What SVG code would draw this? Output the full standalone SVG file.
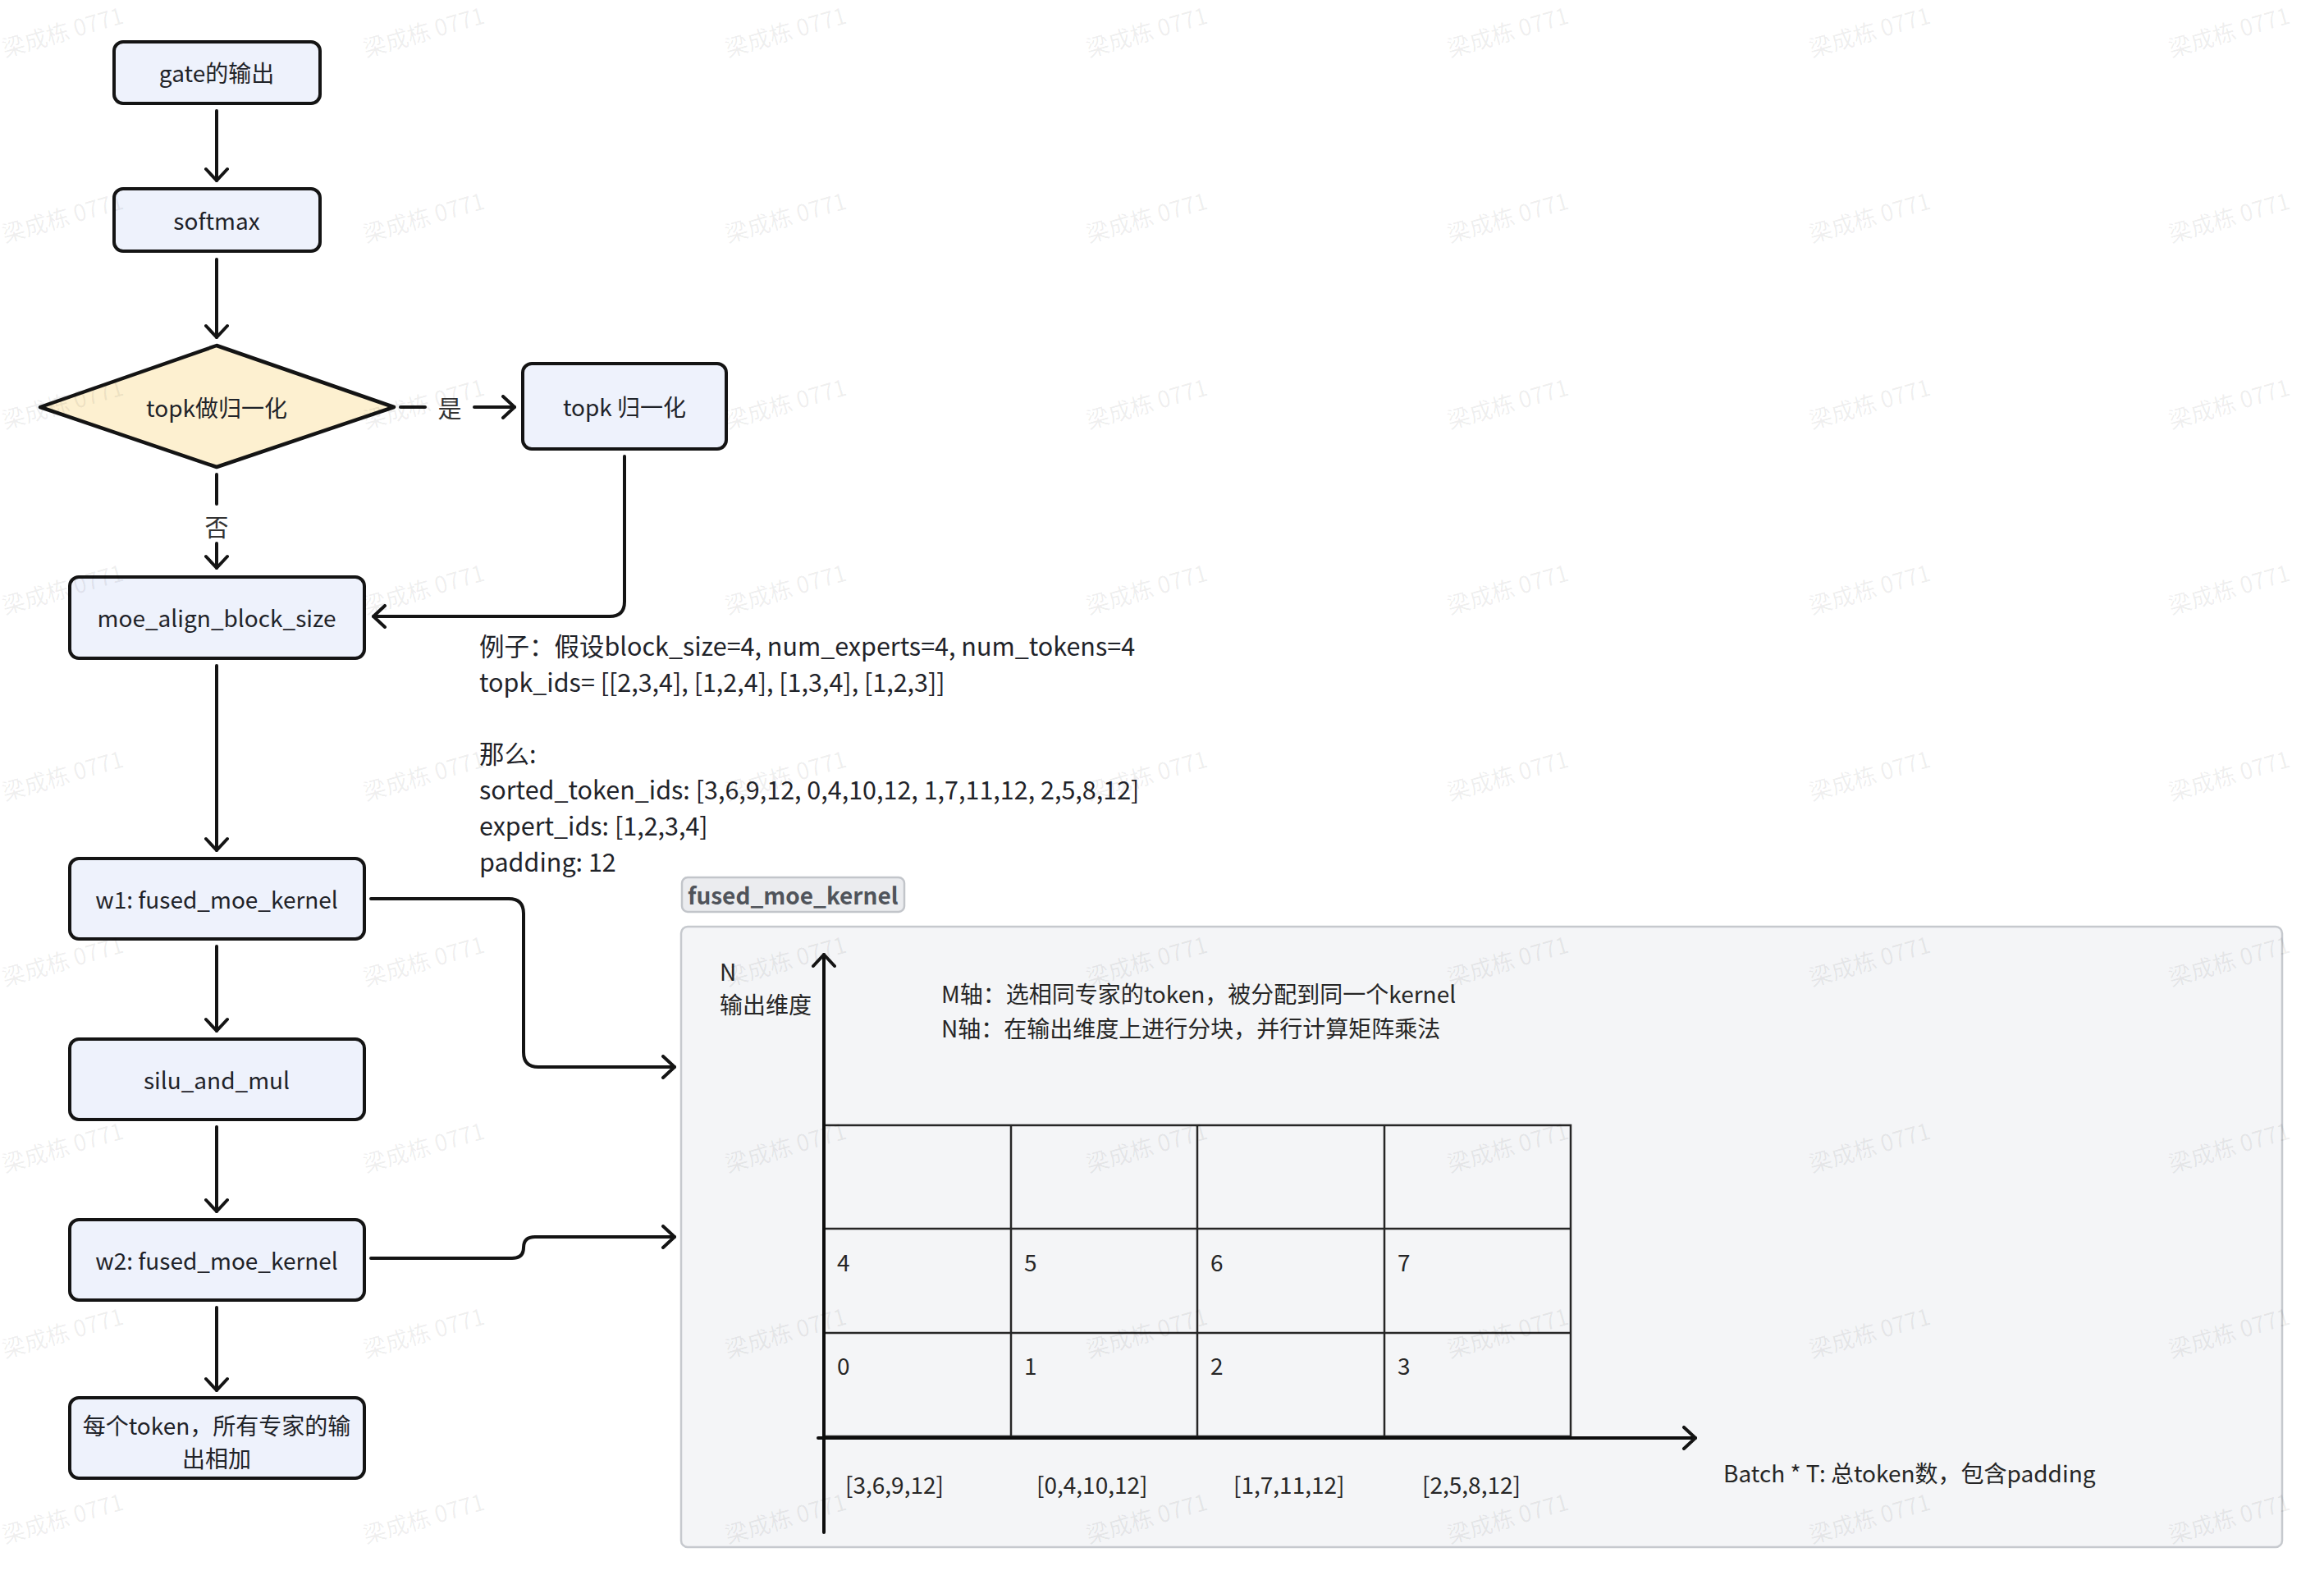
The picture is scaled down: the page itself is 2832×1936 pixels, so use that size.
<svg xmlns="http://www.w3.org/2000/svg" width="2832" height="1936" viewBox="0 0 2832 1936">
  <defs>
    <style>
      text { font-family: "Noto Sans CJK SC", "Noto Sans", sans-serif; fill: #1f2329; }
      .node rect { fill: #eef2fc; stroke: #141414; stroke-width: 4; }
      .node text { font-size: 28px; text-anchor: middle; dominant-baseline: central; }
      .decision polygon { fill: #fdf0d0; stroke: #141414; stroke-width: 4.5; stroke-linejoin: round; }
      .decision text { font-size: 28px; text-anchor: middle; dominant-baseline: central; }
      .edge { fill: none; stroke: #141414; stroke-width: 4; stroke-linecap: round; stroke-linejoin: round; }
      .elabel { font-size: 29px; text-anchor: middle; dominant-baseline: central; fill: #333; }
      .note { font-size: 30.5px; dominant-baseline: central; }
      .chart { font-size: 28px; dominant-baseline: central; fill: #262626; }
      .grid { fill: none; stroke: #262626; stroke-width: 2.5; }
      .axis { fill: none; stroke: #0d0d0d; stroke-width: 4; stroke-linecap: round; stroke-linejoin: round; }
      .wm { font-size: 28px; fill: #000; fill-opacity: 0.07; }
    </style>
    <marker id="arrow" viewBox="0 0 20 30" refX="17" refY="15" markerWidth="20" markerHeight="30" markerUnits="userSpaceOnUse" orient="auto">
      <path d="M3,2 L17,15 L3,28" fill="none" stroke="#141414" stroke-width="4" stroke-linecap="round" stroke-linejoin="round"/>
    </marker>
  </defs>

  <rect x="0" y="0" width="2832" height="1936" fill="#ffffff"/>

  <!-- kernel panel -->
  <g id="kernel-panel">
    <rect x="831" y="1069" width="271" height="42" rx="7" fill="#ebecef" stroke="#c2c5ca" stroke-width="2.5"/>
    <text x="838" y="1090" font-size="28" font-weight="700" dominant-baseline="central" style="fill:#50545b">fused_moe_kernel</text>
    <rect x="830" y="1129" width="1951" height="756" rx="8" fill="#f4f5f7" stroke="#c6c9ce" stroke-width="2.5"/>

    <!-- tile grid -->
    <rect class="grid" x="1004" y="1371" width="910" height="379"/>
    <line class="grid" x1="1232" y1="1371" x2="1232" y2="1750"/>
    <line class="grid" x1="1459" y1="1371" x2="1459" y2="1750"/>
    <line class="grid" x1="1687" y1="1371" x2="1687" y2="1750"/>
    <line class="grid" x1="1004" y1="1497" x2="1914" y2="1497" stroke="#4a4a4a" stroke-width="3.5"/>
    <line class="grid" x1="1004" y1="1624" x2="1914" y2="1624" stroke="#4a4a4a" stroke-width="3.5"/>

    <!-- axes -->
    <line class="axis" x1="1004" y1="1867" x2="1004" y2="1163" marker-end="url(#arrow)"/>
    <line class="axis" x1="997" y1="1752" x2="2066" y2="1752" marker-end="url(#arrow)"/>

    <text class="chart" x="877" y="1183">N</text>
    <text class="chart" x="877" y="1223">输出维度</text>
    <text class="chart" x="1147" y="1210">M轴：选相同专家的token，被分配到同一个kernel</text>
    <text class="chart" x="1147" y="1252">N轴：在输出维度上进行分块，并行计算矩阵乘法</text>

    <text class="chart" x="1020" y="1537">4</text>
    <text class="chart" x="1248" y="1537">5</text>
    <text class="chart" x="1475" y="1537">6</text>
    <text class="chart" x="1703" y="1537">7</text>
    <text class="chart" x="1020" y="1663">0</text>
    <text class="chart" x="1248" y="1663">1</text>
    <text class="chart" x="1475" y="1663">2</text>
    <text class="chart" x="1703" y="1663">3</text>

    <text class="chart" x="1030" y="1808">[3,6,9,12]</text>
    <text class="chart" x="1263" y="1808">[0,4,10,12]</text>
    <text class="chart" x="1503" y="1808">[1,7,11,12]</text>
    <text class="chart" x="1733" y="1808">[2,5,8,12]</text>

    <text class="chart" x="2100" y="1794">Batch * T: 总token数，包含padding</text>
  </g>

  <!-- worked example -->
  <g id="example-note">
    <text class="note" x="584" y="786">例子：假设block_size=4, num_experts=4, num_tokens=4</text>
    <text class="note" x="584" y="830">topk_ids= [[2,3,4], [1,2,4], [1,3,4], [1,2,3]]</text>
    <text class="note" x="584" y="917">那么:</text>
    <text class="note" x="584" y="961">sorted_token_ids: [3,6,9,12, 0,4,10,12, 1,7,11,12, 2,5,8,12]</text>
    <text class="note" x="584" y="1005">expert_ids: [1,2,3,4]</text>
    <text class="note" x="584" y="1049">padding: 12</text>
  </g>

  <!-- connectors -->
  <g id="connectors">
    <line class="edge" x1="264" y1="135" x2="264" y2="220" marker-end="url(#arrow)"/>
    <line class="edge" x1="264" y1="316" x2="264" y2="411" marker-end="url(#arrow)"/>
    <line class="edge" x1="488" y1="496" x2="518" y2="496"/>
    <text class="elabel" x="548" y="496">是</text>
    <line class="edge" x1="578" y1="496" x2="627" y2="496" marker-end="url(#arrow)"/>
    <line class="edge" x1="264" y1="578" x2="264" y2="614"/>
    <text class="elabel" x="264" y="641">否</text>
    <line class="edge" x1="264" y1="662" x2="264" y2="692" marker-end="url(#arrow)"/>
    <path class="edge" d="M761,556 V733 Q761,751 743,751 H455" marker-end="url(#arrow)"/>
    <line class="edge" x1="264" y1="811" x2="264" y2="1036" marker-end="url(#arrow)"/>
    <path class="edge" d="M452,1095 H620 Q638,1095 638,1113 V1282 Q638,1300 656,1300 H822" marker-end="url(#arrow)"/>
    <line class="edge" x1="264" y1="1153" x2="264" y2="1256" marker-end="url(#arrow)"/>
    <path class="edge" d="M452,1533 H624 Q638,1533 638,1520 Q638,1507 652,1507 H822" marker-end="url(#arrow)"/>
    <line class="edge" x1="264" y1="1373" x2="264" y2="1476" marker-end="url(#arrow)"/>
    <line class="edge" x1="264" y1="1593" x2="264" y2="1694" marker-end="url(#arrow)"/>
  </g>

  <!-- flow nodes -->
  <g id="gate-output" class="node">
    <rect x="139" y="51" width="251" height="75" rx="11"/>
    <text x="264" y="88">gate的输出</text>
  </g>
  <g id="softmax" class="node">
    <rect x="139" y="230" width="251" height="76" rx="11"/>
    <text x="264" y="268">softmax</text>
  </g>
  <g id="topk-decision" class="decision">
    <polygon points="264,421 480,496 264,569 49,496"/>
    <text x="264" y="496">topk做归一化</text>
  </g>
  <g id="topk-normalize" class="node">
    <rect x="637" y="443" width="248" height="104" rx="11"/>
    <text x="761" y="495">topk 归一化</text>
  </g>
  <g id="moe-align-block-size" class="node">
    <rect x="85" y="703" width="359" height="99" rx="11"/>
    <text x="264" y="752">moe_align_block_size</text>
  </g>
  <g id="w1-fused-moe-kernel" class="node">
    <rect x="85" y="1046" width="359" height="98" rx="11"/>
    <text x="264" y="1095">w1: fused_moe_kernel</text>
  </g>
  <g id="silu-and-mul" class="node">
    <rect x="85" y="1266" width="359" height="98" rx="11"/>
    <text x="264" y="1315">silu_and_mul</text>
  </g>
  <g id="w2-fused-moe-kernel" class="node">
    <rect x="85" y="1486" width="359" height="98" rx="11"/>
    <text x="264" y="1535">w2: fused_moe_kernel</text>
  </g>
  <g id="sum-outputs" class="node">
    <rect x="85" y="1703" width="359" height="98" rx="11"/>
    <text x="264" y="1736">每个token，所有专家的输</text>
    <text x="264" y="1776">出相加</text>
  </g>

  <!-- tiled watermark: 7 columns x 9 rows -->
  <g id="watermark">
    <text class="wm" x="6" y="70" transform="rotate(-16 6 70)">梁成栋 0771</text>
    <text class="wm" x="446" y="70" transform="rotate(-16 446 70)">梁成栋 0771</text>
    <text class="wm" x="887" y="70" transform="rotate(-16 887 70)">梁成栋 0771</text>
    <text class="wm" x="1327" y="70" transform="rotate(-16 1327 70)">梁成栋 0771</text>
    <text class="wm" x="1767" y="70" transform="rotate(-16 1767 70)">梁成栋 0771</text>
    <text class="wm" x="2208" y="70" transform="rotate(-16 2208 70)">梁成栋 0771</text>
    <text class="wm" x="2646" y="70" transform="rotate(-16 2646 70)">梁成栋 0771</text>

    <text class="wm" x="6" y="296" transform="rotate(-16 6 296)">梁成栋 0771</text>
    <text class="wm" x="446" y="296" transform="rotate(-16 446 296)">梁成栋 0771</text>
    <text class="wm" x="887" y="296" transform="rotate(-16 887 296)">梁成栋 0771</text>
    <text class="wm" x="1327" y="296" transform="rotate(-16 1327 296)">梁成栋 0771</text>
    <text class="wm" x="1767" y="296" transform="rotate(-16 1767 296)">梁成栋 0771</text>
    <text class="wm" x="2208" y="296" transform="rotate(-16 2208 296)">梁成栋 0771</text>
    <text class="wm" x="2646" y="296" transform="rotate(-16 2646 296)">梁成栋 0771</text>

    <text class="wm" x="6" y="523" transform="rotate(-16 6 523)">梁成栋 0771</text>
    <text class="wm" x="446" y="523" transform="rotate(-16 446 523)">梁成栋 0771</text>
    <text class="wm" x="887" y="523" transform="rotate(-16 887 523)">梁成栋 0771</text>
    <text class="wm" x="1327" y="523" transform="rotate(-16 1327 523)">梁成栋 0771</text>
    <text class="wm" x="1767" y="523" transform="rotate(-16 1767 523)">梁成栋 0771</text>
    <text class="wm" x="2208" y="523" transform="rotate(-16 2208 523)">梁成栋 0771</text>
    <text class="wm" x="2646" y="523" transform="rotate(-16 2646 523)">梁成栋 0771</text>

    <text class="wm" x="6" y="749" transform="rotate(-16 6 749)">梁成栋 0771</text>
    <text class="wm" x="446" y="749" transform="rotate(-16 446 749)">梁成栋 0771</text>
    <text class="wm" x="887" y="749" transform="rotate(-16 887 749)">梁成栋 0771</text>
    <text class="wm" x="1327" y="749" transform="rotate(-16 1327 749)">梁成栋 0771</text>
    <text class="wm" x="1767" y="749" transform="rotate(-16 1767 749)">梁成栋 0771</text>
    <text class="wm" x="2208" y="749" transform="rotate(-16 2208 749)">梁成栋 0771</text>
    <text class="wm" x="2646" y="749" transform="rotate(-16 2646 749)">梁成栋 0771</text>

    <text class="wm" x="6" y="976" transform="rotate(-16 6 976)">梁成栋 0771</text>
    <text class="wm" x="446" y="976" transform="rotate(-16 446 976)">梁成栋 0771</text>
    <text class="wm" x="887" y="976" transform="rotate(-16 887 976)">梁成栋 0771</text>
    <text class="wm" x="1327" y="976" transform="rotate(-16 1327 976)">梁成栋 0771</text>
    <text class="wm" x="1767" y="976" transform="rotate(-16 1767 976)">梁成栋 0771</text>
    <text class="wm" x="2208" y="976" transform="rotate(-16 2208 976)">梁成栋 0771</text>
    <text class="wm" x="2646" y="976" transform="rotate(-16 2646 976)">梁成栋 0771</text>

    <text class="wm" x="6" y="1202" transform="rotate(-16 6 1202)">梁成栋 0771</text>
    <text class="wm" x="446" y="1202" transform="rotate(-16 446 1202)">梁成栋 0771</text>
    <text class="wm" x="887" y="1202" transform="rotate(-16 887 1202)">梁成栋 0771</text>
    <text class="wm" x="1327" y="1202" transform="rotate(-16 1327 1202)">梁成栋 0771</text>
    <text class="wm" x="1767" y="1202" transform="rotate(-16 1767 1202)">梁成栋 0771</text>
    <text class="wm" x="2208" y="1202" transform="rotate(-16 2208 1202)">梁成栋 0771</text>
    <text class="wm" x="2646" y="1202" transform="rotate(-16 2646 1202)">梁成栋 0771</text>

    <text class="wm" x="6" y="1429" transform="rotate(-16 6 1429)">梁成栋 0771</text>
    <text class="wm" x="446" y="1429" transform="rotate(-16 446 1429)">梁成栋 0771</text>
    <text class="wm" x="887" y="1429" transform="rotate(-16 887 1429)">梁成栋 0771</text>
    <text class="wm" x="1327" y="1429" transform="rotate(-16 1327 1429)">梁成栋 0771</text>
    <text class="wm" x="1767" y="1429" transform="rotate(-16 1767 1429)">梁成栋 0771</text>
    <text class="wm" x="2208" y="1429" transform="rotate(-16 2208 1429)">梁成栋 0771</text>
    <text class="wm" x="2646" y="1429" transform="rotate(-16 2646 1429)">梁成栋 0771</text>

    <text class="wm" x="6" y="1655" transform="rotate(-16 6 1655)">梁成栋 0771</text>
    <text class="wm" x="446" y="1655" transform="rotate(-16 446 1655)">梁成栋 0771</text>
    <text class="wm" x="887" y="1655" transform="rotate(-16 887 1655)">梁成栋 0771</text>
    <text class="wm" x="1327" y="1655" transform="rotate(-16 1327 1655)">梁成栋 0771</text>
    <text class="wm" x="1767" y="1655" transform="rotate(-16 1767 1655)">梁成栋 0771</text>
    <text class="wm" x="2208" y="1655" transform="rotate(-16 2208 1655)">梁成栋 0771</text>
    <text class="wm" x="2646" y="1655" transform="rotate(-16 2646 1655)">梁成栋 0771</text>

    <text class="wm" x="6" y="1881" transform="rotate(-16 6 1881)">梁成栋 0771</text>
    <text class="wm" x="446" y="1881" transform="rotate(-16 446 1881)">梁成栋 0771</text>
    <text class="wm" x="887" y="1881" transform="rotate(-16 887 1881)">梁成栋 0771</text>
    <text class="wm" x="1327" y="1881" transform="rotate(-16 1327 1881)">梁成栋 0771</text>
    <text class="wm" x="1767" y="1881" transform="rotate(-16 1767 1881)">梁成栋 0771</text>
    <text class="wm" x="2208" y="1881" transform="rotate(-16 2208 1881)">梁成栋 0771</text>
    <text class="wm" x="2646" y="1881" transform="rotate(-16 2646 1881)">梁成栋 0771</text>
  </g>
</svg>
